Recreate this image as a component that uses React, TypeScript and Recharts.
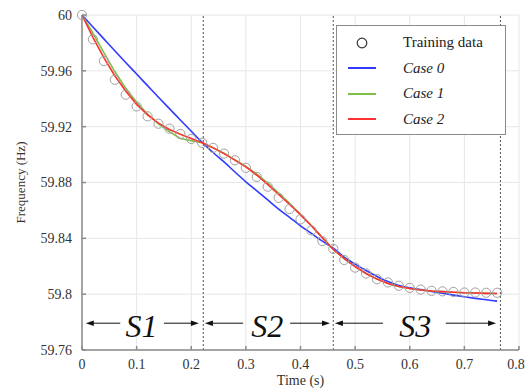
import { LineChart, Line, XAxis, YAxis, CartesianGrid, ReferenceLine, ReferenceDot, Legend } from "recharts"

// time grid of the training samples (s)
const times = [
  0, 0.02, 0.04, 0.06, 0.08, 0.1, 0.12, 0.14, 0.16, 0.18, 0.2, 0.22, 0.24, 0.26, 0.28, 0.3, 0.32, 0.34, 0.36,
  0.38, 0.4, 0.42, 0.44, 0.46, 0.48, 0.5, 0.52, 0.54, 0.56, 0.58, 0.6, 0.62, 0.64, 0.66, 0.68, 0.7, 0.72, 0.74,
  0.76,
]

const trainingData = [
  60, 59.9826, 59.967, 59.9536, 59.9429, 59.9345, 59.9274, 59.9221, 59.9186, 59.9148, 59.9112, 59.9084,
  59.9048, 59.9007, 59.8959, 59.8905, 59.884, 59.877, 59.869, 59.861, 59.8536, 59.8457, 59.838, 59.8325,
  59.8245, 59.819, 59.8148, 59.8107, 59.8084, 59.806, 59.8045, 59.8033, 59.8024, 59.802, 59.8016, 59.8012,
  59.8012, 59.801, 59.801,
]

const case0 = [
  60, 59.9914, 59.9829, 59.9744, 59.966, 59.9577, 59.9494, 59.9411, 59.9329, 59.9248, 59.9167, 59.9087,
  59.9015, 59.8948, 59.8875, 59.8805, 59.874, 59.8675, 59.861, 59.855, 59.849, 59.8435, 59.838, 59.833,
  59.8265, 59.8215, 59.817, 59.8127, 59.809, 59.8062, 59.8045, 59.8033, 59.802, 59.8006, 59.7993, 59.7981,
  59.797, 59.796, 59.795,
]

const case1 = [
  60, 59.987, 59.973, 59.9595, 59.9475, 59.9375, 59.929, 59.922, 59.9165, 59.9115, 59.91, 59.9085,
  59.905, 59.901, 59.8962, 59.8915, 59.886, 59.8795, 59.8725, 59.865, 59.857, 59.849, 59.8405, 59.832,
  59.8255, 59.8198, 59.8148, 59.8108, 59.8077, 59.8055, 59.804, 59.803, 59.8023, 59.8018, 59.8014, 59.801,
  59.8008, 59.8006, 59.8005,
]

const case2 = [
  60, 59.984, 59.9695, 59.9565, 59.9455, 59.936, 59.9285, 59.9225, 59.918, 59.9145, 59.9115, 59.9085,
  59.9048, 59.9007, 59.896, 59.8912, 59.8852, 59.8786, 59.8714, 59.8643, 59.857, 59.849, 59.8405, 59.832,
  59.8255, 59.8198, 59.8148, 59.8108, 59.8077, 59.8055, 59.804, 59.803, 59.8023, 59.8018, 59.8014, 59.801,
  59.8008, 59.8006, 59.8005,
]

const xTicks = [0, 0.1, 0.2, 0.3, 0.4, 0.5, 0.6, 0.7, 0.8]
const yTicks = [59.76, 59.8, 59.84, 59.88, 59.92, 59.96, 60]

// segment boundaries and labels
const segmentBounds = [0.222, 0.46, 0.766]
const segmentLabels = ["S1", "S2", "S3"]
const segmentLabelX = [0.109, 0.339, 0.61]
// arrows as [tail, head] in time units
const segmentArrows = [
  [0.07, 0.007],
  [0.15, 0.214],
  [0.295, 0.225],
  [0.381, 0.454],
  [0.551, 0.463],
  [0.666, 0.758],
]
const annotationY = 59.7792

const legendOrder = ["train", "case0", "case1", "case2"]

const serif = "Liberation Serif"
const axisColor = "#8a8a8a"

const chartData = times.map((t, i) => ({
  t,
  train: trainingData[i],
  case0: case0[i],
  case1: case1[i],
  case2: case2[i],
}))

const seriesColors: Record<string, string> = {
  case0: "#2f3cff",
  case1: "#7cc04a",
  case2: "#ff3030",
}

function Arrow(props: any) {
  const { x1, y1, x2, y2 } = props
  const dir = x2 > x1 ? 1 : -1
  return (
    <g>
      <line x1={x1} y1={y1} x2={x2 - dir * 5} y2={y2} stroke="#111" strokeWidth={1} />
      <polygon
        points={`${x2},${y2} ${x2 - dir * 8},${y2 - 2.8} ${x2 - dir * 8},${y2 + 2.8}`}
        fill="#111"
      />
    </g>
  )
}

function XTick({ x, y, payload }: any) {
  return (
    <text x={x} y={y} dy="0.71em" textAnchor="middle" fontFamily={serif} fontSize={14} fill="#333">
      {String(payload.value)}
    </text>
  )
}

function YTick({ x, y, payload }: any) {
  return (
    <text x={x} y={y} dy="0.35em" textAnchor="end" fontFamily={serif} fontSize={14} fill="#333">
      {String(payload.value)}
    </text>
  )
}

function SegmentLabel({ viewBox, value }: any) {
  const cx = viewBox.x + viewBox.width / 2
  const cy = viewBox.y + viewBox.height / 2
  return (
    <text
      x={cx}
      y={cy}
      dy="0.42em"
      textAnchor="middle"
      fontFamily={serif}
      fontStyle="italic"
      fontSize={32}
      fill="#111"
    >
      {value}
    </text>
  )
}

function LegendBox({ payload }: any) {
  const items = [...(payload || [])].sort(
    (a: any, b: any) => legendOrder.indexOf(a.dataKey) - legendOrder.indexOf(b.dataKey)
  )
  return (
    <div
      style={{
        border: "1px solid #8a8a8a",
        background: "#fff",
        width: 170,
        height: 110,
        boxSizing: "border-box",
        paddingTop: 4,
        fontFamily: serif,
        fontSize: 15,
        color: "#222",
      }}
    >
      {items.map((entry: any) => (
        <div key={entry.dataKey} style={{ display: "flex", alignItems: "center", height: 25.5 }}>
          <svg width={58} height={12} style={{ marginLeft: 8 }}>
            {entry.dataKey === "train" ? (
              <circle cx={17} cy={6} r={4.8} fill="none" stroke="#333" strokeWidth={1.2} />
            ) : (
              <line x1={3} y1={6} x2={31} y2={6} stroke={seriesColors[entry.dataKey]} strokeWidth={2} />
            )}
          </svg>
          <span style={{ fontStyle: entry.dataKey === "train" ? "normal" : "italic" }}>{entry.value}</span>
        </div>
      ))}
    </div>
  )
}

function YTitle({ viewBox }: any) {
  const cx = viewBox.x + 20
  const cy = viewBox.y + viewBox.height / 2
  return (
    <text
      x={cx}
      y={cy}
      transform={`rotate(-90, ${cx}, ${cy})`}
      textAnchor="middle"
      dominantBaseline="central"
      fontFamily={serif}
      fontSize={13}
      fill="#333"
    >
      Frequency (Hz)
    </text>
  )
}

function XTitle({ viewBox }: any) {
  const cx = viewBox.x + viewBox.width / 2
  const by = viewBox.y + viewBox.height - 7
  return (
    <text x={cx} y={by} textAnchor="middle" fontFamily={serif} fontSize={14} fill="#333">
      Time (s)
    </text>
  )
}

export default function App() {
  return (
    <div
      style={{
        position: "absolute",
        left: 0,
        top: 0,
        width: 526,
        height: 392,
        background: "#fff",
        fontFamily: serif,
      }}
    >
      <LineChart width={526} height={392} data={chartData} margin={{ top: 15, right: 7, bottom: 0, left: 0 }}>
        <CartesianGrid stroke="#e6e6e6" />
        <XAxis
          dataKey="t"
          type="number"
          domain={[0, 0.8]}
          ticks={xTicks}
          height={42}
          tick={<XTick />}
          tickSize={-4}
          tickMargin={13}
          stroke={axisColor}
          strokeWidth={1.5}
          label={<XTitle />}
        />
        <XAxis
          xAxisId="top"
          orientation="top"
          dataKey="t"
          type="number"
          domain={[0, 0.8]}
          ticks={xTicks}
          height={0}
          tickSize={-4}
          tickFormatter={() => ""}
          stroke={axisColor}
          strokeWidth={1.5}
        />
        <YAxis
          type="number"
          domain={[59.76, 60]}
          ticks={yTicks}
          width={82}
          tick={<YTick />}
          tickSize={-4}
          tickMargin={14}
          stroke={axisColor}
          strokeWidth={1.5}
          label={<YTitle />}
        />
        <YAxis
          yAxisId="r"
          orientation="right"
          type="number"
          domain={[59.76, 60]}
          ticks={yTicks}
          width={0}
          tickSize={-4}
          tickFormatter={() => ""}
          stroke={axisColor}
          strokeWidth={1.5}
        />
        {segmentBounds.map((b) => (
          <ReferenceLine key={b} x={b} stroke="#555" strokeDasharray="2 2" strokeWidth={1} />
        ))}
        {segmentArrows.map(([tail, head], i) => (
          <ReferenceLine
            key={`arrow-${i}`}
            segment={[
              { x: tail, y: annotationY },
              { x: head, y: annotationY },
            ]}
            shape={Arrow}
          />
        ))}
        {segmentLabels.map((s, i) => (
          <ReferenceDot
            key={s}
            x={segmentLabelX[i]}
            y={annotationY}
            r={0}
            fill="none"
            stroke="none"
            label={<SegmentLabel value={s} />}
          />
        ))}
        <Line
          dataKey="train"
          name="Training data"
          stroke="none"
          dot={{ r: 4.6, stroke: "#a0a0a0", strokeWidth: 1, fill: "none" }}
          isAnimationActive={false}
          legendType="circle"
        />
        <Line
          dataKey="case0"
          name="Case 0"
          type="monotone"
          stroke={seriesColors.case0}
          strokeWidth={1.6}
          dot={false}
          isAnimationActive={false}
        />
        <Line
          dataKey="case1"
          name="Case 1"
          type="linear"
          stroke={seriesColors.case1}
          strokeWidth={1.6}
          dot={false}
          isAnimationActive={false}
        />
        <Line
          dataKey="case2"
          name="Case 2"
          type="linear"
          stroke={seriesColors.case2}
          strokeWidth={1.6}
          dot={false}
          isAnimationActive={false}
        />
        <Legend
          layout="horizontal"
          verticalAlign="middle"
          align="center"
          content={<LegendBox />}
          wrapperStyle={{ position: "absolute", top: 25, left: 336, width: 170, height: 110 }}
        />
      </LineChart>
    </div>
  )
}
